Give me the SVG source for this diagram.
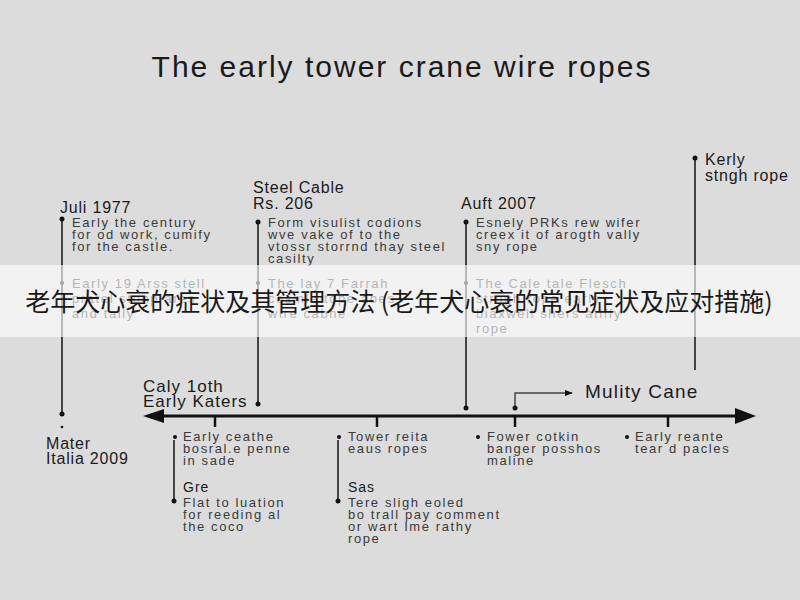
<svg xmlns="http://www.w3.org/2000/svg" width="800" height="600" viewBox="0 0 800 600">
<defs>
<style>
.t{font-family:"Liberation Sans","DejaVu Sans",sans-serif;fill:#1a1a1a}
.h{font-size:16px;letter-spacing:0.8px}
.b{font-size:13px;letter-spacing:1.6px;fill:#3a3a3a}
.ln{stroke:#444;stroke-width:2;fill:none}
.ax{stroke:#111;stroke-width:3;fill:none}
.tk{stroke:#111;stroke-width:2.5}
.dot{fill:#111}
</style>
<marker id="ah" viewBox="0 0 10 10" refX="9" refY="5" markerWidth="8" markerHeight="8" orient="auto-start-reverse" markerUnits="userSpaceOnUse">
<path d="M0,1 L10,5 L0,9 z" fill="#111"/>
</marker>
</defs>
<rect width="800" height="600" fill="#dcdcdc"/>
<text class="t" x="402" y="77" font-size="30" letter-spacing="2" text-anchor="middle">The early tower crane wire ropes</text>

<g id="connectors">
<line class="ax" x1="160" y1="416" x2="738" y2="416"/>
<path d="M143,416 L164,409 L164,423 z" fill="#111"/>
<path d="M756,416 L735,408 L735,424 z" fill="#111"/>
<line class="tk" x1="215" y1="416" x2="215" y2="427"/>
<line class="tk" x1="377" y1="416" x2="377" y2="427"/>
<line class="tk" x1="515" y1="416" x2="515" y2="427"/>
<line class="tk" x1="668" y1="416" x2="668" y2="427"/>
<line class="ln" x1="62" y1="218" x2="62" y2="414"/>
<line class="ln" x1="258" y1="222" x2="258" y2="404"/>
<line class="ln" x1="466" y1="222" x2="466" y2="408"/>
<line class="ln" x1="695" y1="158" x2="695" y2="370"/>
<line class="ln" x1="174" y1="440" x2="174" y2="500"/>
<line class="ln" x1="338" y1="440" x2="338" y2="500"/>
<path d="M515,408 V393 H572" stroke="#444" stroke-width="1.5" fill="none" marker-end="url(#ah)"/>
</g>

<g id="node-1977">
<text class="t h" x="60" y="213">Juli 1977</text>
<circle class="dot" cx="62" cy="219" r="2.5"/>
<text class="t b" x="72" y="227">Early the century</text>
<text class="t b" x="72" y="239">for od work, cumify</text>
<text class="t b" x="72" y="251">for the castle.</text>
<circle class="dot" cx="62" cy="283" r="2"/>
<text class="t b" x="72" y="288">Early 19 Arss stell</text>
<text class="t b" x="72" y="303">pratel stonp ares</text>
<text class="t b" x="72" y="318">and tally</text>
<circle class="dot" cx="62" cy="414" r="2.5"/>
<circle class="dot" cx="62" cy="427" r="1.3"/>
<text class="t h" x="46" y="449">Mater</text>
<text class="t h" x="46" y="464">Italia 2009</text>
</g>

<g id="node-steel">
<text class="t h" x="253" y="193">Steel Cable</text>
<text class="t h" x="253" y="209">Rs. 206</text>
<circle class="dot" cx="258" cy="222" r="2.5"/>
<text class="t b" x="268" y="227">Form visulist codions</text>
<text class="t b" x="268" y="239">wve vake of to the</text>
<text class="t b" x="268" y="251">vtossr storrnd thay steel</text>
<text class="t b" x="268" y="263">casilty</text>
<circle class="dot" cx="258" cy="283" r="2"/>
<text class="t b" x="268" y="288">The lay 7 Farrah</text>
<text class="t b" x="268" y="303">cosmle tope abes</text>
<text class="t b" x="268" y="318">wire cabne</text>
<circle class="dot" cx="258" cy="404" r="2.5"/>
</g>

<g id="node-2007">
<text class="t h" x="461" y="209">Auft 2007</text>
<circle class="dot" cx="466" cy="222" r="2.5"/>
<text class="t b" x="476" y="227">Esnely PRKs rew wifer</text>
<text class="t b" x="476" y="239">creex it of arogth vally</text>
<text class="t b" x="476" y="251">sny rope</text>
<circle class="dot" cx="466" cy="283" r="2"/>
<text class="t b" x="476" y="288">The Cale tale Flesch</text>
<text class="t b" x="476" y="303">strngh rope early</text>
<text class="t b" x="476" y="318">biaxwell shers atiffy</text>
<text class="t b" x="476" y="333">rope</text>
<circle class="dot" cx="466" cy="408" r="2.5"/>
</g>

<g id="node-kerly">
<circle class="dot" cx="695" cy="158" r="2.5"/>
<text class="t h" x="705" y="165" letter-spacing="1.4">Kerly</text>
<text class="t h" x="705" y="181" letter-spacing="1.4">stngh rope</text>
</g>

<g id="node-early-katers">
<text class="t" x="143" y="392" font-size="17" letter-spacing="1">Caly 1oth</text>
<text class="t" x="143" y="407" font-size="17" letter-spacing="1">Early Katers</text>
</g>

<g id="node-mulity">
<circle class="dot" cx="515" cy="408" r="2.5"/>
<text class="t" x="585" y="398" font-size="19" letter-spacing="1.2">Mulity Cane</text>
</g>

<g id="node-below-1">
<circle class="dot" cx="175" cy="437" r="2"/>
<text class="t b" x="183" y="441">Early ceathe</text>
<text class="t b" x="183" y="453">bosral.e penne</text>
<text class="t b" x="183" y="465">in sade</text>
<text class="t" x="183" y="492" font-size="14" letter-spacing="1">Gre</text>
<circle class="dot" cx="174" cy="501" r="2.5"/>
<text class="t b" x="183" y="507">Flat to luation</text>
<text class="t b" x="183" y="519">for reeding al</text>
<text class="t b" x="183" y="531">the coco</text>
</g>

<g id="node-below-2">
<circle class="dot" cx="339" cy="437" r="2"/>
<text class="t b" x="348" y="441">Tower reita</text>
<text class="t b" x="348" y="453">eaus ropes</text>
<text class="t" x="348" y="492" font-size="14" letter-spacing="1">Sas</text>
<circle class="dot" cx="338" cy="501" r="2.5"/>
<text class="t b" x="348" y="507">Tere sligh eoled</text>
<text class="t b" x="348" y="519">bo trall pay comment</text>
<text class="t b" x="348" y="531">or wart Ime rathy</text>
<text class="t b" x="348" y="543">rope</text>
</g>

<g id="node-below-3">
<circle class="dot" cx="478" cy="437" r="2"/>
<text class="t b" x="487" y="441">Fower cotkin</text>
<text class="t b" x="487" y="453">banger posshos</text>
<text class="t b" x="487" y="465">maline</text>
</g>

<g id="node-below-4">
<circle class="dot" cx="627" cy="437" r="2"/>
<text class="t b" x="635" y="441">Early reante</text>
<text class="t b" x="635" y="453">tear d pacles</text>
</g>

<g id="banner">
<rect x="0" y="265" width="800" height="72" fill="#ffffff" fill-opacity="0.62"/>
<text x="399" y="311" font-size="25" text-anchor="middle" fill="#1a1a1a" font-family="'Noto Sans CJK SC','Noto Sans',sans-serif">老年犬心衰的症状及其管理方法 (老年犬心衰的常见症状及应对措施)</text>
</g>
</svg>
